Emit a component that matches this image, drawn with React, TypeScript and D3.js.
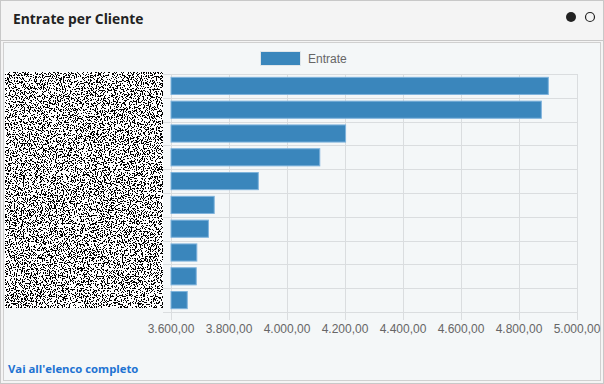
import React from "react";
import * as d3 from "d3";

const categories = ["Cliente 1", "Cliente 2", "Cliente 3", "Cliente 4", "Cliente 5", "Cliente 6", "Cliente 7", "Cliente 8", "Cliente 9", "Cliente 10"];
const entrate = [4901, 4877, 4202, 4113, 3901, 3749, 3729, 3689, 3687, 3656];
const xTicks = [3600, 3800, 4000, 4200, 4400, 4600, 4800, 5000];
const seriesName = "Entrate";
const title = "Entrate per Cliente";
const linkText = "Vai all'elenco completo";

const W = 604, H = 384;
const plot = { left: 171, right: 577, top: 74, bottom: 312 };
const itLocale = d3.formatLocale({ decimal: ",", thousands: ".", grouping: [3], currency: ["€", ""] });
const fmt = itLocale.format(",.2f");

export default function App() {
  const x = d3.scaleLinear().domain([3600, 5000]).range([plot.left, plot.right]);
  const y = d3.scaleBand<string>().domain(categories).range([plot.top, plot.bottom]).paddingInner(0).paddingOuter(0);
  const step = y.step();
  const barH = step * 0.72;
  const grid = "#dadddf";
  const font = "'Liberation Sans', Arial, sans-serif";
  const hLines = d3.range(categories.length + 1).map((i) => plot.top + i * step);

  return (
    <svg width={W} height={H} style={{ position: "absolute", left: 0, top: 0 }} fontFamily={font}>
      <defs>
        <filter id="noise" x="0" y="0" width="100%" height="100%" filterUnits="objectBoundingBox">
          <feTurbulence type="fractalNoise" baseFrequency="0.85" numOctaves="2" seed="3" result="t" />
          <feColorMatrix in="t" type="matrix" values="0 0 0 0 0  0 0 0 0 0  0 0 0 0 0  -1 0 0 0 1" result="a" />
          <feComponentTransfer in="a">
            <feFuncA type="discrete" tableValues="0 0 0 0 0 0 0 0 0 0 0 1 1 1 1 1 1 1 1 1" />
          </feComponentTransfer>
        </filter>
      </defs>
      {/* card */}
      <rect x={0.5} y={0.5} width={W - 1} height={H - 1} fill="#f4f4f4" stroke="#c8c8c8" />
      <rect x={1} y={1} width={W - 2} height={39} fill="#f4f4f4" />
      <line x1={1} x2={W - 1} y1={40.5} y2={40.5} stroke="#c8c8c8" />
      <rect x={3.5} y={42.5} width={597} height={338} fill="#f4f7f8" stroke="#d0d0d0" />
      <text x={13} y={24} fontSize={13.8} fontWeight="bold" fill="#222" fontFamily="'Open Sans', 'Liberation Sans', sans-serif">{title}</text>
      <circle cx={571} cy={17} r={5} fill="#222" />
      <circle cx={590} cy={17} r={4.5} fill="none" stroke="#222" strokeWidth={1.2} />

      {/* legend */}
      <rect x={260.5} y={51.5} width={40} height={14} fill="#3a86bc" stroke="#e0e6ea" />
      <text x={308} y={63} fontSize={12} fill="#666">{seriesName}</text>

      {/* grid */}
      {hLines.map((v, i) => (
        <line key={"h" + i} x1={plot.left - 8} x2={plot.right} y1={Math.round(v) + 0.5} y2={Math.round(v) + 0.5} stroke={grid} />
      ))}
      {xTicks.map((t) => (
        <g key={"v" + t}>
          <line x1={Math.round(x(t)) + 0.5} x2={Math.round(x(t)) + 0.5} y1={plot.top} y2={plot.bottom + 8} stroke={grid} />
          <text x={x(t)} y={333} fontSize={12} fill="#666" textAnchor="middle">{fmt(t)}</text>
        </g>
      ))}

      {/* bars */}
      {categories.map((c, i) => (
        <rect key={c} x={x(3600)} y={(y(c) as number) + (step - barH) / 2} width={x(entrate[i]) - x(3600)} height={barH}
          fill="#3a86bc" stroke="#7eb3dc" strokeWidth={1} />
      ))}

      {/* redacted category labels */}
      <rect x={5} y={72} width={158} height={236} fill="#ffffff" />
      <rect x={5} y={72} width={158} height={236} fill="#000" filter="url(#noise)" />

      <text x={8} y={373} fontSize={11.3} fontWeight="bold" fill="#1e73d2" fontFamily="'Open Sans', 'Liberation Sans', sans-serif">{linkText}</text>
    </svg>
  );
}
